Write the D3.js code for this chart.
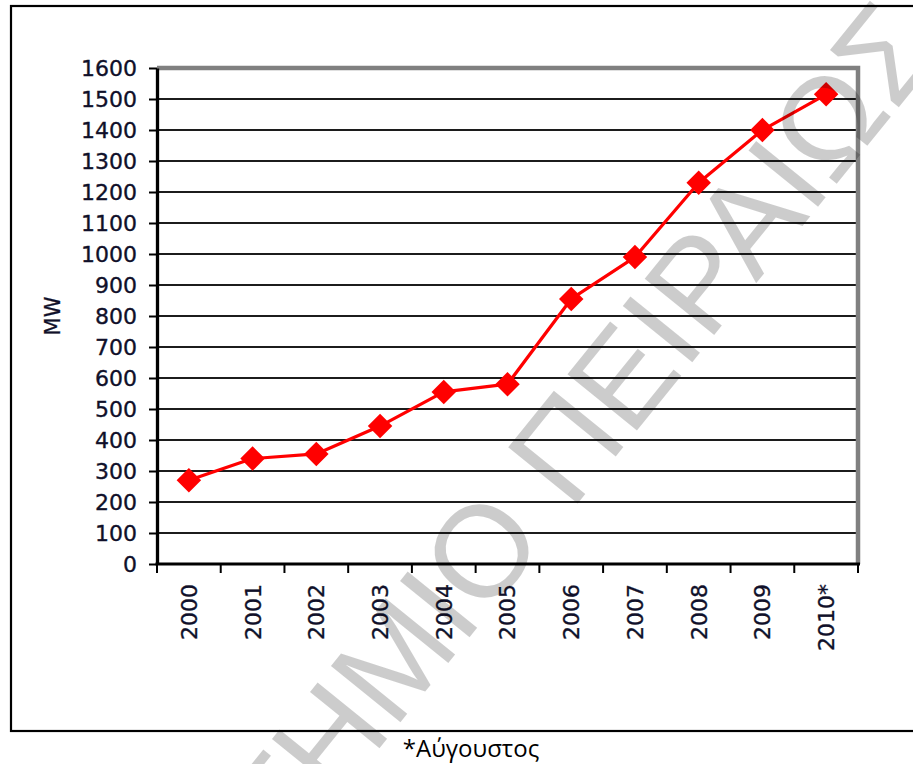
<!DOCTYPE html>
<html>
<head>
<meta charset="utf-8">
<script src="https://cdn.jsdelivr.net/npm/d3@7"></script>
<style>
  html, body { margin: 0; padding: 0; background: #fff; }
  svg { display: block; }
</style>
</head>
<body>
<svg id="chart" width="913" height="764"></svg>
<script>
// Installed wind capacity (MW) per year
const years = ["2000", "2001", "2002", "2003", "2004", "2005", "2006", "2007", "2008", "2009", "2010*"];
const capacityMW = [270, 340, 355, 445, 555, 580, 855, 990, 1230, 1400, 1515];
const yTickValues = [0, 100, 200, 300, 400, 500, 600, 700, 800, 900, 1000, 1100, 1200, 1300, 1400, 1500, 1600];
const yAxisTitle = "MW";
const footnote = "*Αύγουστος";
const watermark = "ΠΑΝΕΠΙΣΤΗΜΙΟ ΠΕΙΡΑΙΩΣ";

const svg = d3.select("#chart");
const W = 913, H = 764;
const plot = { left: 157, right: 858, top: 68, bottom: 564 };
const tickFont = "'DejaVu Sans', Verdana, sans-serif";
const textColor = "#10102a";

// outer frame
svg.append("rect")
  .attr("x", 11).attr("y", 6)
  .attr("width", W + 20).attr("height", 725)
  .attr("fill", "#fff").attr("stroke", "#000").attr("stroke-width", 2.2);

const x = d3.scaleBand().domain(years).range([plot.left, plot.right]);
const y = d3.scaleLinear().domain([0, 1600]).range([plot.bottom, plot.top]);

// horizontal gridlines
svg.append("g")
  .selectAll("line")
  .data(yTickValues.filter(v => v > 0 && v < 1600))
  .join("line")
  .attr("x1", plot.left).attr("x2", plot.right)
  .attr("y1", d => y(d)).attr("y2", d => y(d))
  .attr("stroke", "#1c1c1c").attr("stroke-width", 2);

// grey frame on top and right
svg.append("path")
  .attr("d", `M${plot.left},${y(1600)}H${plot.right}V${plot.bottom}`)
  .attr("fill", "none").attr("stroke", "#808080").attr("stroke-width", 4.5);

// y axis
const yAxis = svg.append("g")
  .attr("transform", `translate(${plot.left},0)`)
  .call(d3.axisLeft(y).tickValues(yTickValues).tickFormat(d3.format("d"))
    .tickSize(8).tickPadding(12).tickSizeOuter(0));
yAxis.select(".domain").attr("stroke", "#000").attr("stroke-width", 3.3);
yAxis.selectAll(".tick line").attr("stroke", "#000").attr("stroke-width", 2);
yAxis.selectAll(".tick text")
  .attr("font-family", tickFont).attr("font-size", 22).attr("fill", textColor)
  .attr("stroke", textColor).attr("stroke-width", 0.35);

// x axis: baseline and tick marks at category boundaries
const xAxis = svg.append("g")
  .attr("transform", `translate(0,${plot.bottom})`);
xAxis.append("line")
  .attr("x1", plot.left - 1.5).attr("x2", plot.right + 2)
  .attr("stroke", "#000").attr("stroke-width", 3.2);
xAxis.selectAll("line.tk")
  .data(years.map(d => x(d)).concat([x.range()[1]]))
  .join("line").attr("class", "tk")
  .attr("x1", d => d).attr("x2", d => d)
  .attr("y1", 0).attr("y2", 9)
  .attr("stroke", "#000").attr("stroke-width", 2);
xAxis.selectAll("text")
  .data(years)
  .join("text")
  .attr("transform", d => `translate(${x(d) + x.bandwidth() / 2},20) rotate(-90)`)
  .attr("dy", "0.36em")
  .attr("text-anchor", "end")
  .attr("font-family", tickFont).attr("font-size", 22).attr("fill", textColor)
  .attr("stroke", textColor).attr("stroke-width", 0.35)
  .text(d => d);

// y axis title
svg.append("text")
  .attr("transform", `translate(52,316) rotate(-90)`)
  .attr("dy", "0.36em")
  .attr("text-anchor", "middle")
  .attr("font-family", tickFont).attr("font-size", 21).attr("fill", textColor)
  .attr("stroke", textColor).attr("stroke-width", 0.3)
  .text(yAxisTitle);

// data line
const pts = years.map((d, i) => [x(d) + x.bandwidth() / 2, y(capacityMW[i])]);
svg.append("path")
  .attr("d", d3.line()(pts))
  .attr("fill", "none").attr("stroke", "#ff0000").attr("stroke-width", 3.2)
  .attr("stroke-linejoin", "round");

// diamond markers
svg.append("g")
  .selectAll("path")
  .data(pts)
  .join("path")
  .attr("transform", d => `translate(${d[0]},${d[1]}) rotate(45)`)
  .attr("d", d3.symbol(d3.symbolSquare, 300)())
  .attr("fill", "#ff0000");

// footnote
svg.append("text")
  .attr("x", 471).attr("y", 757)
  .attr("text-anchor", "middle")
  .attr("font-family", "'Open Sans', 'Noto Sans', sans-serif")
  .attr("font-size", 24).attr("fill", "#000")
  .text(footnote);

// watermark
svg.append("text")
  .attr("transform", "translate(945,50) rotate(-51)")
  .attr("text-anchor", "end")
  .attr("font-family", "'Liberation Sans', Arial, sans-serif")
  .attr("font-size", 130)
  .attr("fill", "#000").attr("fill-opacity", 0.2)
  .text(watermark);
</script>
</body>
</html>
